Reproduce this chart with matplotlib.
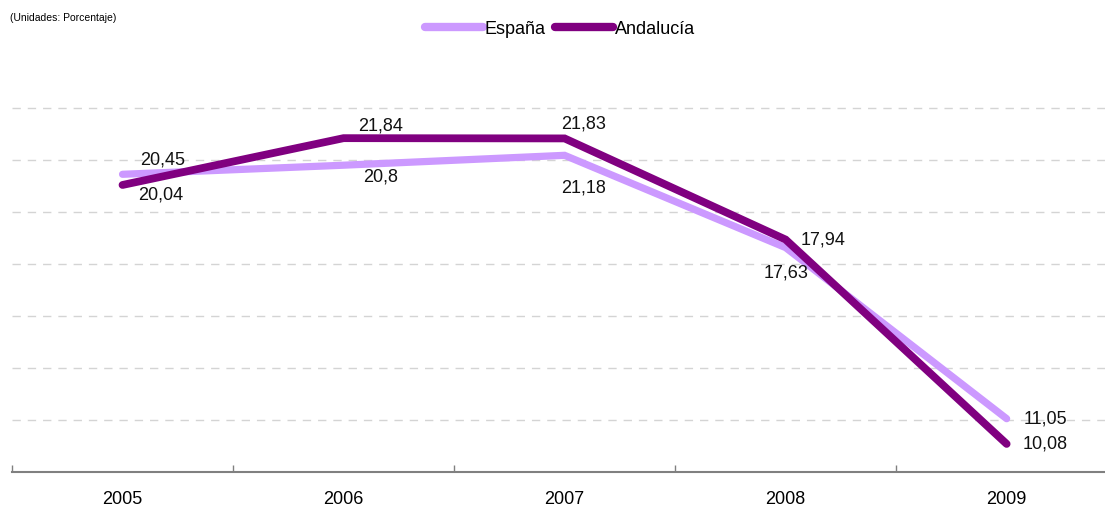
import matplotlib
matplotlib.use("Agg")
import matplotlib.pyplot as plt
from matplotlib.lines import Line2D

plt.rcParams['font.family'] = ['Liberation Sans Narrow', 'Liberation Sans', 'DejaVu Sans']

years = ["2005", "2006", "2007", "2008", "2009"]
espana = [20.45, 20.8, 21.18, 17.63, 11.05]
andalucia = [20.04, 21.84, 21.83, 17.94, 10.08]

# label offsets in pixels (dx, dy with dy downwards)
espana_off = [(40, -14), (37, 12), (19, 33), (0, 25), (39, 0)]
andalucia_off = [(38, 10), (37, -12), (19, -14), (37, 0), (39, 0)]

c_esp = "#cc99ff"
c_and = "#800080"
fs = 13

fig = plt.figure(figsize=(11.05, 5.13), dpi=100)
ax = fig.add_axes([12 / 1105, 41 / 513, 1 - 12 / 1105, 416 / 513])

x = list(range(len(years)))
ax.plot(x, espana, color=c_esp, lw=5.2, solid_capstyle="round", solid_joinstyle="miter", zorder=3)
ax.plot(x, andalucia, color=c_and, lw=5.6, solid_capstyle="round", solid_joinstyle="miter", zorder=4)

def fmt(v):
    return f"{v:g}".replace(".", ",")

for xi, v, (dx, dy) in zip(x, espana, espana_off):
    ax.annotate(fmt(v), (xi, v), xytext=(dx * 0.72, -dy * 0.72), textcoords="offset points",
                ha="center", va="center", fontsize=fs, color="#111111", zorder=5)
for xi, v, (dx, dy) in zip(x, andalucia, andalucia_off):
    ax.annotate(fmt(v), (xi, v), xytext=(dx * 0.72, -dy * 0.72), textcoords="offset points",
                ha="center", va="center", fontsize=fs, color="#111111", zorder=5)

ax.set_xlim(-0.5, 4.445)
ax.set_ylim(9, 25)
ax.set_yticks([11, 13, 15, 17, 19, 21, 23])
ax.yaxis.grid(True, color="#d4d4d4", ls=(0, (6, 5)), lw=1)
ax.tick_params(axis="y", left=False, labelleft=False)

ax.set_xticks([-0.5, 0.5, 1.5, 2.5, 3.5])
ax.set_xticklabels([])
ax.set_xticks(x, minor=True)
ax.set_xticklabels(years, minor=True, fontsize=fs)
ax.tick_params(axis="x", which="major", direction="in", length=5, color="#808080", width=1)
ax.tick_params(axis="x", which="minor", length=0, pad=14)

for s in ["top", "right", "left"]:
    ax.spines[s].set_visible(False)
ax.spines["bottom"].set_color("#808080")
ax.spines["bottom"].set_linewidth(1.5)

handles = [Line2D([], [], color=c_esp, lw=6, solid_capstyle="round"),
           Line2D([], [], color=c_and, lw=6, solid_capstyle="round")]
fig.legend(handles, ["España", "Andalucía"], loc="center", bbox_to_anchor=(560 / 1105, 1 - 29 / 513),
           ncol=2, frameon=False, fontsize=fs, handlelength=3.2, handletextpad=0.1,
           columnspacing=0.5)

fig.text(10 / 1105, 1 - 18 / 513, "(Unidades: Porcentaje)", fontsize=7.5,
         family=["Liberation Sans", "DejaVu Sans"], va="center", ha="left")

fig.savefig("out.png", dpi=100)
